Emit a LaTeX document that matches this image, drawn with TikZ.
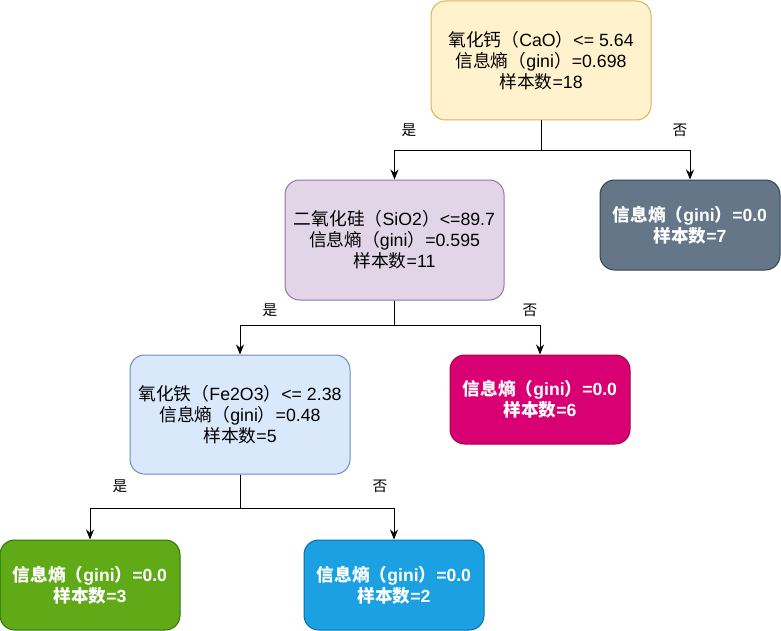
\documentclass[tikz,border=0pt]{standalone}
\usepackage{fontspec}
\setmainfont{Liberation Sans}
\newfontfamily\cjk{Noto Sans CJK SC}
\newcommand{\zh}[1]{{\cjk #1}}
\usetikzlibrary{arrows.meta}
\definecolor{yfill}{HTML}{FFF2CC}\definecolor{ydraw}{HTML}{D6B656}
\definecolor{pfill}{HTML}{E1D5E7}\definecolor{pdraw}{HTML}{9673A6}
\definecolor{bfill}{HTML}{DAE8FC}\definecolor{bdraw}{HTML}{6C8EBF}
\definecolor{gfill}{HTML}{647687}\definecolor{gdraw}{HTML}{314354}
\definecolor{mfill}{HTML}{D80073}\definecolor{mdraw}{HTML}{A50040}
\definecolor{lfill}{HTML}{60A917}\definecolor{ldraw}{HTML}{2D7600}
\definecolor{cfill}{HTML}{1BA1E2}\definecolor{cdraw}{HTML}{006EAF}
\begin{document}
\begin{tikzpicture}[x=0.75pt,y=-0.75pt,
  box/.style={rounded corners=11pt,line width=0.75pt,align=center,inner sep=0pt,
    font=\fontsize{13.3pt}{15.75pt}\selectfont,text=black},
  leaf/.style={box,text=white,font=\fontsize{13.2pt}{15.75pt}\selectfont\bfseries},
  conn/.style={line width=0.75pt,-{Stealth[length=7.5pt,width=6pt]}},
  lab/.style={font=\fontsize{11pt}{12pt}\selectfont\cjk,inner sep=0pt}]
\useasboundingbox (0,0) rectangle (781,631);
\node[box,fill=yfill,draw=ydraw,minimum width=165pt,minimum height=89.25pt] (root) at (541,60.5)
  {\zh{氧化钙（}CaO\zh{）}<= 5.64\\\zh{信息熵（}gini\zh{）}=0.698\\\zh{样本数}=18};
\node[box,fill=pfill,draw=pdraw,minimum width=164.25pt,minimum height=90pt] (sio) at (394.5,240)
  {\zh{二氧化硅（}SiO2\zh{）}<=89.7\\\zh{信息熵（}gini\zh{）}=0.595\\\zh{样本数}=11};
\node[leaf,fill=gfill,draw=gdraw,minimum width=135pt,minimum height=67.5pt] (l7) at (690,225)
  {\zh{信息熵（}gini\zh{）}=0.0\\\zh{样本数}=7};
\node[box,fill=bfill,draw=bdraw,minimum width=165pt,minimum height=89.25pt] (fe) at (240,414.5)
  {\zh{氧化铁（}Fe2O3\zh{）}<= 2.38\\\zh{信息熵（}gini\zh{）}=0.48\\\zh{样本数}=5};
\node[leaf,fill=mfill,draw=mdraw,minimum width=135pt,minimum height=66.75pt] (l6) at (540,399.5)
  {\zh{信息熵（}gini\zh{）}=0.0\\\zh{样本数}=6};
\node[leaf,fill=lfill,draw=ldraw,minimum width=135pt,minimum height=67.5pt] (l3) at (90,585)
  {\zh{信息熵（}gini\zh{）}=0.0\\\zh{样本数}=3};
\node[leaf,fill=cfill,draw=cdraw,minimum width=135pt,minimum height=67.5pt] (l2) at (394,585)
  {\zh{信息熵（}gini\zh{）}=0.0\\\zh{样本数}=2};
\draw[conn] (root.south) -- ++(0,30) -| (sio.north);
\draw[conn] (root.south) -- ++(0,30) -| (l7.north);
\draw[conn] (sio.south) -- ++(0,25) -| (fe.north);
\draw[conn] (sio.south) -- ++(0,25) -| (l6.north);
\draw[conn] (fe.south) -- ++(0,34) -| (l3.north);
\draw[conn] (fe.south) -- ++(0,34) -| (l2.north);
\node[lab] (y1) at (409,130) {是};
\node[lab] (n1) at (680,130) {否};
\node[lab] (y2) at (270,310) {是};
\node[lab] (n2) at (530,310) {否};
\node[lab] (y3) at (120,486) {是};
\node[lab] (n3) at (380,486) {否};
\end{tikzpicture}
\end{document}
